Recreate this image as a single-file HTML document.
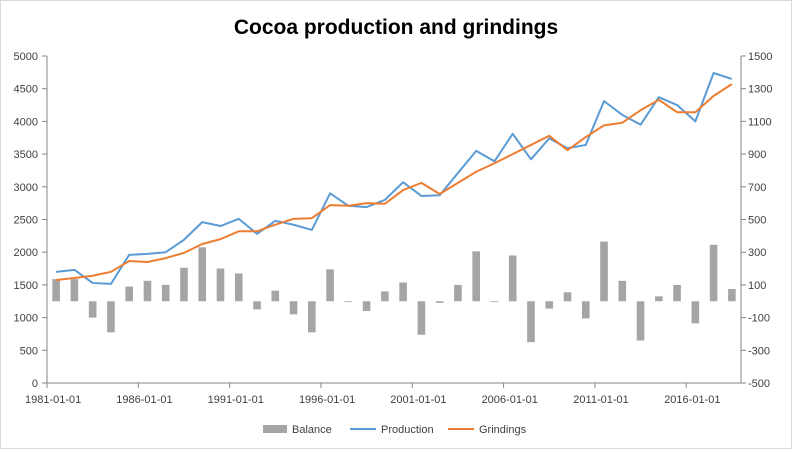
<!DOCTYPE html>
<html><head><meta charset="utf-8"><style>
body{margin:0;background:#fff}
svg{font-family:"Liberation Sans",Arial,sans-serif;display:block}
</style></head><body>
<svg id="chart" width="792" height="449">
<rect x="0.5" y="0.5" width="791" height="448" fill="#fff" stroke="#d9d9d9"/>
<text x="396" y="34" text-anchor="middle" font-size="21" font-weight="bold" fill="#000">Cocoa production and grindings</text>
<g id="axes"></g><g id="bars"></g><g id="lines"></g>
<g>
<rect x="263" y="425" width="24" height="8" fill="#a5a5a5"/>
<text x="292" y="433" font-size="11" fill="#404040">Balance</text>
<line x1="350" y1="429" x2="376" y2="429" stroke="#5b9bd5" stroke-width="2"/>
<text x="381" y="433" font-size="11" fill="#404040">Production</text>
<line x1="448" y1="429" x2="474" y2="429" stroke="#ed7d31" stroke-width="2"/>
<text x="479" y="433" font-size="11" fill="#404040">Grindings</text>
</g>
</svg>
<script>
const years=[];for(let y=1981;y<=2018;y++)years.push(y);
const production=[1700,1730,1530,1515,1960,1975,2000,2190,2460,2400,2510,2280,2480,2420,2340,2900,2710,2690,2800,3070,2860,2870,3210,3550,3390,3810,3420,3740,3590,3640,4310,4100,3950,4370,4250,4000,4740,4650];
const grindings=[1575,1605,1640,1700,1865,1850,1910,1990,2125,2200,2320,2320,2420,2510,2520,2720,2710,2750,2740,2950,3060,2890,3060,3230,3360,3500,3640,3780,3560,3760,3940,3980,4170,4330,4140,4140,4390,4570];
const balance=[135,135,-100,-190,90,125,100,205,330,200,170,-50,65,-80,-190,195,-3,-60,60,115,-205,-10,100,305,-3,280,-250,-45,55,-105,365,125,-240,30,100,-135,345,75];
const leftTicks=[0,500,1000,1500,2000,2500,3000,3500,4000,4500,5000];
const rightTicks=[-500,-300,-100,100,300,500,700,900,1100,1300,1500];
const X0=47,X1=741,Y0=383,Y1=56,n=years.length,bw=(X1-X0)/n;
const xC=i=>X0+bw*(i+0.5);
const yL=v=>Y0-(v/5000)*(Y0-Y1);
const yR=v=>Y0-((v+500)/2000)*(Y0-Y1);
const NS="http://www.w3.org/2000/svg";
function mk(p,t,a){const e=document.createElementNS(NS,t);for(const k in a)e.setAttribute(k,a[k]);p.appendChild(e);return e;}
const ax=document.getElementById('axes');
let e;
e=mk(ax,'line',{x1:X0,y1:Y1,x2:X0,y2:Y0,stroke:'#868686'});


e=mk(ax,'line',{x1:X1,y1:Y1,x2:X1,y2:Y0,stroke:'#868686'});


e=mk(ax,'line',{x1:X0,y1:Y0,x2:X1,y2:Y0,stroke:'#868686'});


leftTicks.forEach(v=>{const y=yL(v);mk(ax,'line',{x1:X0-5,y1:y,x2:X0,y2:y,stroke:'#868686'});
 e=mk(ax,'text',{x:38,y:y+4,'text-anchor':'end','font-size':11,fill:'#404040'});e.textContent=v;
 
 });
rightTicks.forEach(v=>{const y=yR(v);mk(ax,'line',{x1:X1,y1:y,x2:X1+5,y2:y,stroke:'#868686'});
 e=mk(ax,'text',{x:748,y:y+4,'font-size':11,fill:'#404040'});e.textContent=v;
 
 });
for(let i=0;i<=n;i+=5){const x=X0+bw*i;mk(ax,'line',{x1:x,y1:Y0,x2:x,y2:Y0+5,stroke:'#868686'});}
for(let i=0;i<n;i+=5){e=mk(ax,'text',{x:xC(i)-3,y:Y0+20,'text-anchor':'middle','font-size':11,fill:'#404040'});e.textContent=years[i]+'-01-01';
 
 }
const bg=document.getElementById('bars');
balance.forEach((v,i)=>{const y0=yR(0),y=yR(v);
 e=mk(bg,'rect',{x:xC(i)-3.8,y:Math.min(y0,y),width:7.6,height:Math.max(Math.abs(y-y0),0.8),fill:'#a5a5a5'});
 
 });
const lg=document.getElementById('lines');
e=mk(lg,'polyline',{points:production.map((v,i)=>xC(i)+','+yL(v)).join(' '),fill:'none',stroke:'#5b9bd5','stroke-width':2,'stroke-linejoin':'round'});


e=mk(lg,'polyline',{points:grindings.map((v,i)=>xC(i)+','+yL(v)).join(' '),fill:'none',stroke:'#ed7d31','stroke-width':2,'stroke-linejoin':'round'});


</script>
</body></html>
